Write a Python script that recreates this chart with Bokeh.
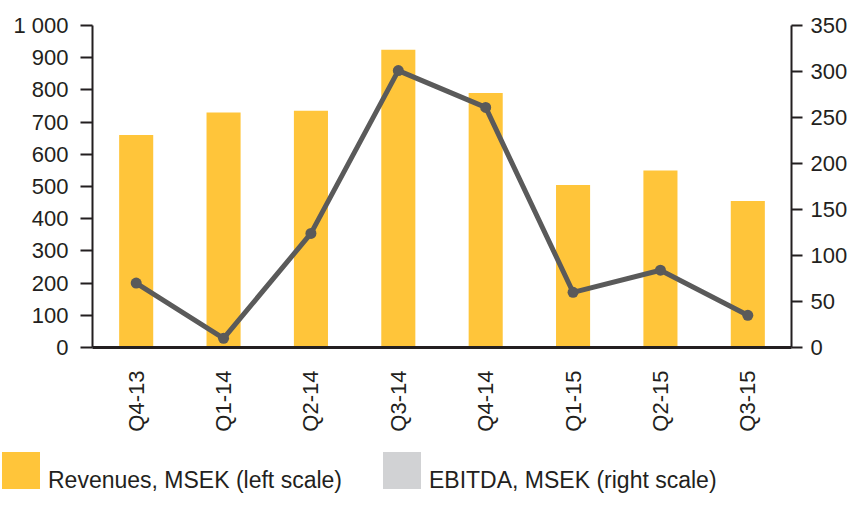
import math
from bokeh.plotting import figure
from bokeh.layouts import column
from bokeh.models import (Range1d, LinearAxis, FixedTicker, FactorRange,
                          ColumnDataSource, Div)
from bokeh.embed import file_html
from bokeh.resources import INLINE

quarters = ["Q4-13", "Q1-14", "Q2-14", "Q3-14", "Q4-14", "Q1-15", "Q2-15", "Q3-15"]
revenues = [660, 730, 735, 925, 790, 505, 550, 455]
ebitda = [70, 10, 124, 301, 261, 60, 84, 35]
left_ticks = [0, 100, 200, 300, 400, 500, 600, 700, 800, 900, 1000]
right_ticks = [0, 50, 100, 150, 200, 250, 300, 350]
legend_labels = ["Revenues, MSEK (left scale)", "EBITDA, MSEK (right scale)"]

FONT = "Liberation Sans"
INK = "#231f20"
YELLOW = "#FFC53A"
GREY_LINE = "#5a5a5a"
GREY_LEG = "#D1D2D4"

p = figure(width=850, height=440, x_range=FactorRange(*quarters, range_padding=0),
           y_range=Range1d(0, 1000), output_backend="svg", toolbar_location=None,
           min_border_left=92, min_border_right=57, min_border_top=25,
           min_border_bottom=93, y_axis_location=None)
p.extra_y_ranges = {"right": Range1d(0, 350)}
p.outline_line_color = None
p.xgrid.visible = False
p.ygrid.visible = False

src = ColumnDataSource(dict(q=quarters, rev=revenues, eb=ebitda))
p.vbar(x="q", top="rev", width=0.39, source=src, fill_color=YELLOW, line_color=None)
p.line(x="q", y="eb", source=src, y_range_name="right", line_width=5, line_color=GREY_LINE)
p.scatter(x="q", y="eb", source=src, y_range_name="right", size=11,
          fill_color=GREY_LINE, line_color=None)

def style(ax):
    ax.axis_line_color = INK
    ax.axis_line_width = 2
    ax.major_tick_line_color = INK
    ax.major_tick_line_width = 2
    ax.minor_tick_line_color = None
    ax.major_label_text_font = FONT
    ax.major_label_text_font_size = "22px"
    ax.major_label_text_color = INK

left = LinearAxis(ticker=FixedTicker(ticks=left_ticks))
left.major_label_overrides = {1000: "1 000"}
style(left)
left.major_tick_out = 12
left.major_tick_in = 0
left.major_label_standoff = 12
p.add_layout(left, "left")

right = LinearAxis(y_range_name="right", ticker=FixedTicker(ticks=right_ticks))
style(right)
right.major_tick_out = 11
right.major_tick_in = 0
right.major_label_standoff = 8
p.add_layout(right, "right")

xa = p.xaxis[0]
style(xa)
xa.axis_line_width = 3
xa.major_tick_line_color = None
xa.major_tick_out = 0
xa.major_tick_in = 0
xa.major_label_standoff = 23
xa.major_label_orientation = math.pi / 2

# legend strip (HTML, real text)
items = [(YELLOW, legend_labels[0], 2), (GREY_LEG, legend_labels[1], 383)]
parts = []
for color, label, x0 in items:
    parts.append(
        f'<div style="position:absolute;left:{x0}px;top:12px;width:38px;height:37px;'
        f'background:{color};"></div>'
        f'<div style="position:absolute;left:{x0 + 46}px;top:29px;line-height:23px;'
        f'font-family:\'{FONT}\';font-size:23px;color:{INK};white-space:nowrap;">{label}</div>'
    )
html = ('<div style="position:relative;width:850px;height:54px;">' + "".join(parts) + '</div>')
legend = Div(text=html, width=850, height=54, margin=(0, 0, 0, 0))

layout = column(p, legend, spacing=0)
open("out.html", "w").write(file_html(layout, INLINE))
